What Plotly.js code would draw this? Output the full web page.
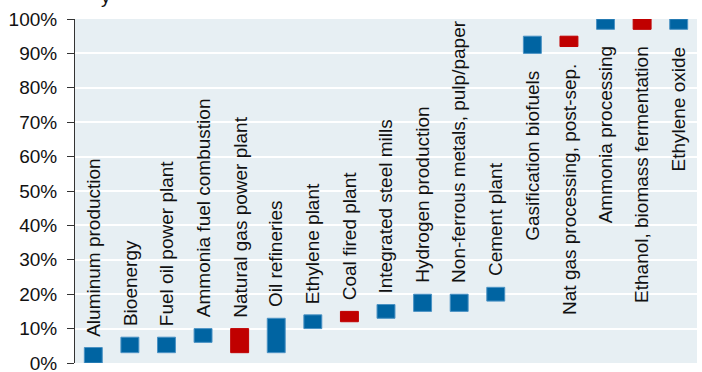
<!DOCTYPE html>
<html>
<head>
<meta charset="utf-8">
<script src="https://cdn.plot.ly/plotly-3.0.1.min.js"></script>
<style>html,body{margin:0;padding:0;background:#fff;}#chart{width:702px;height:372px;}</style>
</head>
<body>
<div id="chart"></div>
<script>
const categories = [
  "Aluminum production", "Bioenergy", "Fuel oil power plant", "Ammonia fuel combustion",
  "Natural gas power plant", "Oil refineries", "Ethylene plant", "Coal fired plant",
  "Integrated steel mills", "Hydrogen production", "Non-ferrous metals, pulp/paper",
  "Cement plant", "Gasification biofuels", "Nat gas processing, post-sep.",
  "Ammonia processing", "Ethanol, biomass fermentation", "Ethylene oxide"
];
const lowValues  = [0.00, 0.03, 0.03, 0.06, 0.03, 0.03, 0.10, 0.12, 0.13, 0.15, 0.15, 0.18, 0.90, 0.92, 0.97, 0.97, 0.97];
const highValues = [0.045, 0.075, 0.075, 0.10, 0.10, 0.13, 0.14, 0.15, 0.17, 0.20, 0.20, 0.22, 0.95, 0.95, 1.00, 1.00, 1.00];
const group = ["b","b","b","b","r","b","b","r","b","b","b","b","b","r","b","r","b"];
const tickValues = [0,0.1,0.2,0.3,0.4,0.5,0.6,0.7,0.8,0.9,1.0];

const BLUE = "#0064a2", BLUE_EDGE = "#4a92c4", RED = "#c00000";
const FONT = "Liberation Sans, Arial, sans-serif";

const trace = {
  type: "bar",
  x: categories,
  y: highValues.map((h, i) => h - lowValues[i]),
  base: lowValues,
  width: 0.49,
  marker: {
    color: group.map(g => g === "r" ? RED : BLUE),
    line: {color: group.map(g => g === "r" ? RED : BLUE_EDGE), width: 1}
  },
  hoverinfo: "skip"
};

const annotations = categories.map((c, i) => {
  const above = highValues[i] < 0.5;
  return {
    x: c, xref: "x", yref: "y",
    y: above ? highValues[i] : lowValues[i],
    yanchor: above ? "bottom" : "top",
    xanchor: "center",
    yshift: above ? 9 : -15,
    text: c, textangle: -90, showarrow: false,
    font: {family: FONT, size: 19, color: "#111"}
  };
});
annotations.push({
  xref: "paper", yref: "paper", x: 0.05, y: 1.03, xanchor: "center", yanchor: "bottom",
  text: "y", showarrow: false, font: {family: FONT, size: 19, color: "#111"}
});

const layout = {
  width: 702, height: 372,
  margin: {l: 75, r: 5, t: 19, b: 9},
  paper_bgcolor: "#ffffff",
  plot_bgcolor: "#e7eff3",
  showlegend: false,
  bargap: 0,
  xaxis: {type: "category", range: [-0.5, 16.5], showticklabels: false, showgrid: false,
          zeroline: false, showline: false, ticks: "", fixedrange: true},
  yaxis: {range: [0, 1], tickvals: tickValues, tickformat: ".0%", showgrid: true,
          gridcolor: "#ffffff", gridwidth: 2, zeroline: false, showline: true,
          linecolor: "#333", linewidth: 1, ticks: "outside", ticklen: 7, tickcolor: "#333",
          ticklabelstandoff: 6, ticklabeloverflow: "allow",
          tickfont: {family: FONT, size: 19, color: "#111"}},
  annotations: annotations
};

Plotly.newPlot("chart", [trace], layout, {displayModeBar: false, staticPlot: true});
</script>
</body>
</html>
